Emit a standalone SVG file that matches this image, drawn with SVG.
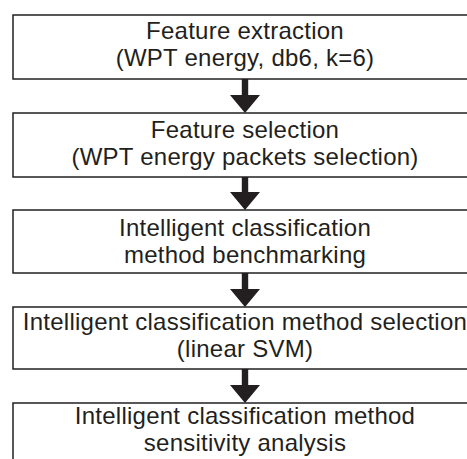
<svg xmlns="http://www.w3.org/2000/svg" width="467" height="459" viewBox="0 0 467 459">
  <style>
    .box { fill: #ffffff; stroke: #231f20; stroke-width: 1.5; }
    .lbl { font-family: "Liberation Sans", Arial, sans-serif; font-size: 24px; letter-spacing: 0.25px; fill: #231f20; text-anchor: middle; }
    .arr { fill: #231f20; stroke: none; }
  </style>
  <rect x="0" y="0" width="467" height="459" fill="#ffffff"/>
  <g id="node1">
    <rect class="box" x="13" y="15" width="480" height="64"/>
    <text class="lbl"><tspan x="245" y="39">Feature extraction</tspan><tspan x="245" y="66">(WPT energy, db6, k=6)</tspan></text>
  </g>
  <g id="node2">
    <rect class="box" x="13" y="113" width="480" height="64"/>
    <text class="lbl"><tspan x="245" y="138">Feature selection</tspan><tspan x="245" y="165">(WPT energy packets selection)</tspan></text>
  </g>
  <g id="node3">
    <rect class="box" x="13" y="210" width="480" height="63"/>
    <text class="lbl"><tspan x="245" y="236">Intelligent classification</tspan><tspan x="245" y="263">method benchmarking</tspan></text>
  </g>
  <g id="node4">
    <rect class="box" x="13" y="307" width="480" height="62"/>
    <text class="lbl"><tspan x="245" y="330">Intelligent classification method selection</tspan><tspan x="245" y="357">(linear SVM)</tspan></text>
  </g>
  <g id="node5">
    <rect class="box" x="13" y="403" width="480" height="80"/>
    <text class="lbl"><tspan x="245" y="424">Intelligent classification method</tspan><tspan x="245" y="451">sensitivity analysis</tspan></text>
  </g>
  <g id="connectors">
    <path class="arr" d="M241.8,79 H248.2 V95 H260 L245,113 L230,95 H241.8 Z"/>
    <path class="arr" d="M241.8,177 H248.2 V192 H260 L245,210 L230,192 H241.8 Z"/>
    <path class="arr" d="M241.8,273 H248.2 V289 H260 L245,307 L230,289 H241.8 Z"/>
    <path class="arr" d="M241.8,369 H248.2 V385 H260 L245,403 L230,385 H241.8 Z"/>
  </g>
</svg>
